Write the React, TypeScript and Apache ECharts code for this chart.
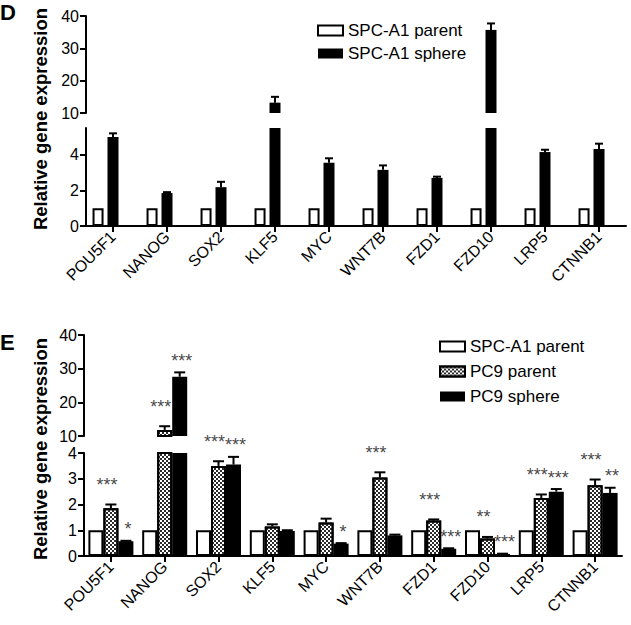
import React, { useEffect, useRef } from 'react';
import * as echarts from 'echarts';

const FONT = "'Liberation Sans', Arial, Helvetica, sans-serif";

const genes = ['POU5F1', 'NANOG', 'SOX2', 'KLF5', 'MYC', 'WNT7B', 'FZD1', 'FZD10', 'LRP5', 'CTNNB1'];

// Panel D
const dParent = [1, 1, 1, 1, 1, 1, 1, 1, 1, 1];
const dSphere = [5.0, 1.85, 2.18, 13.2, 3.55, 3.15, 2.7, 35.7, 4.15, 4.32];
const dSphereErr = [0.2, 0.05, 0.3, 1.8, 0.25, 0.25, 0.07, 2.0, 0.13, 0.3];

// Panel E
const eSpcParent = [1, 1, 1, 1, 1, 1, 1, 1, 1, 1];
const ePc9Parent = [1.85, 11.8, 3.5, 1.15, 1.3, 3.05, 1.38, 0.68, 2.25, 2.75];
const ePc9ParentErr = [0.15, 1.1, 0.18, 0.08, 0.15, 0.2, 0.04, 0.06, 0.14, 0.22];
const ePc9Sphere = [0.57, 27.6, 3.55, 0.97, 0.48, 0.8, 0.28, 0.08, 2.5, 2.45];
const ePc9SphereErr = [0.02, 1.3, 0.3, 0.03, 0.02, 0.03, 0.02, 0.01, 0.1, 0.2];
const eParentStars = ['***', '***', '***', '', '', '***', '***', '**', '***', '***'];
const eSphereStars = ['*', '***', '***', '', '*', '', '***', '***', '***', '**'];

// axis segments (broken axes)
const upperRange = [10, 40];
const dLowerRange = [0, 5.5];
const eLowerRange = [0, 4];

const whiteStyle = { color: '#ffffff', borderColor: '#000', borderWidth: 2 };
const blackStyle = { color: '#000000', borderColor: '#000', borderWidth: 0 };
const checkStyle = {
  color: '#ffffff',
  borderColor: '#000',
  borderWidth: 2,
  decal: {
    symbol: 'rect',
    symbolSize: 1,
    dashArrayX: [[2, 2], [0, 2, 2, 0]],
    dashArrayY: [2, 0],
    color: '#2a2a2a',
    backgroundColor: '#ffffff',
  },
};

const onlyUpper = (arr: number[]) => arr.map((v) => (v >= upperRange[0] ? v : null));

function errData(vals: number[], errs: number[], part: 'upper' | 'lower', lowMax: number) {
  const out: number[][] = [];
  vals.forEach((v, i) => {
    const e = errs[i];
    if (part === 'upper' && v >= upperRange[0]) out.push([i, v, e]);
    if (part === 'lower' && v + e <= lowMax) out.push([i, v, e]);
  });
  return out;
}

function starData(vals: number[], errs: number[], stars: string[], part: 'upper' | 'lower') {
  const out: any[] = [];
  vals.forEach((v, i) => {
    if (!stars[i]) return;
    const top = v + errs[i];
    const isUp = v >= upperRange[0];
    if ((part === 'upper') === isUp) out.push({ value: [i, top], star: stars[i] });
  });
  return out;
}

const errRenderer = (offset: number, cap: number) => (params: any, api: any) => {
  const i = api.value(0);
  const v = api.value(1);
  const e = api.value(2);
  const a = api.coord([i, v]);
  const b = api.coord([i, v + e]);
  const x = a[0] + offset;
  return {
    type: 'group',
    children: [
      { type: 'line', shape: { x1: x, y1: a[1], x2: x, y2: b[1] }, style: { stroke: '#000', lineWidth: 2 } },
      { type: 'line', shape: { x1: x - cap, y1: b[1], x2: x + cap, y2: b[1] }, style: { stroke: '#000', lineWidth: 2 } },
    ],
  };
};

function yAxisCfg(gridIndex: number, range: number[], interval: number, hideMax = false) {
  return {
    type: 'value',
    gridIndex,
    min: range[0],
    max: range[1],
    interval,
    axisLine: { show: true, lineStyle: { color: '#000', width: 2 } },
    axisTick: { show: true, length: 6, lineStyle: { color: '#000', width: 2 } },
    axisLabel: { color: '#000', fontSize: 16, fontFamily: FONT, margin: 7, showMaxLabel: !hideMax },
    splitLine: { show: false },
  };
}

function xAxisCfg(gridIndex: number, show: boolean) {
  return {
    type: 'category',
    gridIndex,
    data: genes,
    show,
    axisLine: { show, lineStyle: { color: '#000', width: 2 } },
    axisTick: { show, alignWithLabel: true, length: 6, lineStyle: { color: '#000', width: 2 } },
    axisLabel: { show, rotate: 45, interval: 0, color: '#000', fontSize: 16, fontFamily: FONT, margin: 8 },
    splitLine: { show: false },
  };
}

function starSeries(name: string, grid: number, data: any[], dx: number, lift: number) {
  return {
    type: 'scatter',
    name,
    xAxisIndex: grid,
    yAxisIndex: grid,
    data,
    symbolSize: 1,
    itemStyle: { color: 'rgba(0,0,0,0)' },
    silent: true,
    z: 5,
    label: {
      show: true,
      position: 'top',
      distance: lift,
      offset: [dx, 0],
      formatter: (p: any) => p.data.star,
      fontSize: 18,
      fontFamily: FONT,
      color: '#111',
    },
  };
}

export default function App() {
  const ref = useRef<HTMLDivElement>(null);
  useEffect(() => {
    if (!ref.current) return;
    const chart = echarts.init(ref.current, undefined, { renderer: 'svg' });

    const dBar = { barWidth: 11, barGap: '36%' };
    const eBar = { barWidth: 15, barGap: '0%' };
    const nulls = genes.map(() => null);

    const series: any[] = [
      // Panel D upper
      { type: 'bar', name: 'SPC-A1 parent', xAxisIndex: 0, yAxisIndex: 0, data: onlyUpper(dParent), itemStyle: whiteStyle, ...dBar },
      { type: 'bar', name: 'SPC-A1 sphere', xAxisIndex: 0, yAxisIndex: 0, data: onlyUpper(dSphere), itemStyle: blackStyle, ...dBar },
      { type: 'bar', name: 'pad-d-up', xAxisIndex: 0, yAxisIndex: 0, data: nulls, itemStyle: { color: 'rgba(0,0,0,0)' }, ...dBar },
      // Panel D lower
      { type: 'bar', name: 'SPC-A1 parent', xAxisIndex: 1, yAxisIndex: 1, data: dParent, itemStyle: whiteStyle, ...dBar },
      { type: 'bar', name: 'SPC-A1 sphere', xAxisIndex: 1, yAxisIndex: 1, data: dSphere, itemStyle: blackStyle, ...dBar },
      { type: 'bar', name: 'pad-d-low', xAxisIndex: 1, yAxisIndex: 1, data: nulls, itemStyle: { color: 'rgba(0,0,0,0)' }, ...dBar },
      // D error bars
      { type: 'custom', name: 'err-d-up', xAxisIndex: 0, yAxisIndex: 0, data: errData(dSphere, dSphereErr, 'upper', dLowerRange[1]), encode: { x: 0, y: 1 }, renderItem: errRenderer(0, 4), z: 4, silent: true },
      { type: 'custom', name: 'err-d-low', xAxisIndex: 1, yAxisIndex: 1, data: errData(dSphere, dSphereErr, 'lower', dLowerRange[1]), encode: { x: 0, y: 1 }, renderItem: errRenderer(0, 4), z: 4, silent: true },

      // Panel E upper
      { type: 'bar', name: 'SPC-A1 parent', xAxisIndex: 2, yAxisIndex: 2, data: onlyUpper(eSpcParent), itemStyle: whiteStyle, ...eBar },
      { type: 'bar', name: 'PC9 parent', xAxisIndex: 2, yAxisIndex: 2, data: onlyUpper(ePc9Parent), itemStyle: checkStyle, ...eBar },
      { type: 'bar', name: 'PC9 sphere', xAxisIndex: 2, yAxisIndex: 2, data: onlyUpper(ePc9Sphere), itemStyle: blackStyle, ...eBar },
      // Panel E lower
      { type: 'bar', name: 'SPC-A1 parent', xAxisIndex: 3, yAxisIndex: 3, data: eSpcParent, itemStyle: whiteStyle, ...eBar },
      { type: 'bar', name: 'PC9 parent', xAxisIndex: 3, yAxisIndex: 3, data: ePc9Parent, itemStyle: checkStyle, ...eBar },
      { type: 'bar', name: 'PC9 sphere', xAxisIndex: 3, yAxisIndex: 3, data: ePc9Sphere, itemStyle: blackStyle, ...eBar },
      // E error bars
      { type: 'custom', name: 'err-e-p-up', xAxisIndex: 2, yAxisIndex: 2, data: errData(ePc9Parent, ePc9ParentErr, 'upper', eLowerRange[1]), encode: { x: 0, y: 1 }, renderItem: errRenderer(0, 5.5), z: 4, silent: true },
      { type: 'custom', name: 'err-e-p-low', xAxisIndex: 3, yAxisIndex: 3, data: errData(ePc9Parent, ePc9ParentErr, 'lower', eLowerRange[1]), encode: { x: 0, y: 1 }, renderItem: errRenderer(0, 5.5), z: 4, silent: true },
      { type: 'custom', name: 'err-e-s-up', xAxisIndex: 2, yAxisIndex: 2, data: errData(ePc9Sphere, ePc9SphereErr, 'upper', eLowerRange[1]), encode: { x: 0, y: 1 }, renderItem: errRenderer(15, 5.5), z: 4, silent: true },
      { type: 'custom', name: 'err-e-s-low', xAxisIndex: 3, yAxisIndex: 3, data: errData(ePc9Sphere, ePc9SphereErr, 'lower', eLowerRange[1]), encode: { x: 0, y: 1 }, renderItem: errRenderer(15, 5.5), z: 4, silent: true },
      // E significance stars
      starSeries('stars-p-up', 2, starData(ePc9Parent, ePc9ParentErr, eParentStars, 'upper'), -4, 10),
      starSeries('stars-p-low', 3, starData(ePc9Parent, ePc9ParentErr, eParentStars, 'lower'), -4, 10),
      starSeries('stars-s-up', 2, starData(ePc9Sphere, ePc9SphereErr, eSphereStars, 'upper'), 17, 2),
      starSeries('stars-s-low', 3, starData(ePc9Sphere, ePc9SphereErr, eSphereStars, 'lower'), 17, 2),
    ];

    const legendBase = {
      orient: 'vertical',
      itemWidth: 25,
      itemHeight: 10,
      icon: 'rect',
      padding: 0,
      selectedMode: false,
      textStyle: { fontSize: 17, color: '#000', fontFamily: FONT, lineHeight: 17 },
    };

    const option: any = {
      animation: false,
      backgroundColor: '#ffffff',
      grid: [
        { left: 86, top: 16, width: 540, height: 97, containLabel: false, outerBoundsMode: 'none' },
        { left: 86, top: 128, width: 540, height: 98, containLabel: false, outerBoundsMode: 'none' },
        { left: 84, top: 335, width: 538, height: 101, containLabel: false, outerBoundsMode: 'none' },
        { left: 84, top: 453, width: 538, height: 103, containLabel: false, outerBoundsMode: 'none' },
      ],
      xAxis: [xAxisCfg(0, false), xAxisCfg(1, true), xAxisCfg(2, false), xAxisCfg(3, true)],
      yAxis: [
        yAxisCfg(0, upperRange, 10),
        yAxisCfg(1, dLowerRange, 2, true),
        yAxisCfg(2, upperRange, 10),
        yAxisCfg(3, eLowerRange, 1),
      ],
      legend: [
        { ...legendBase, left: 317, top: 22, itemGap: 6, data: ['SPC-A1 parent', 'SPC-A1 sphere'] },
        { ...legendBase, left: 439, top: 338, itemGap: 8, data: ['SPC-A1 parent', 'PC9 parent', 'PC9 sphere'] },
      ],
      graphic: [
        { type: 'text', left: 0, top: 1, style: { text: 'D', font: `bold 22px ${FONT}`, fill: '#000' } },
        { type: 'text', left: 0, top: 331, style: { text: 'E', font: `bold 22px ${FONT}`, fill: '#000' } },
        {
          type: 'text', x: 40, y: 119, rotation: Math.PI / 2,
          style: { text: 'Relative gene expression', font: `bold 18.5px ${FONT}`, fill: '#000', textAlign: 'center', textVerticalAlign: 'middle', align: 'center', verticalAlign: 'middle' },
        },
        {
          type: 'text', x: 40, y: 449, rotation: Math.PI / 2,
          style: { text: 'Relative gene expression', font: `bold 18.5px ${FONT}`, fill: '#000', textAlign: 'center', textVerticalAlign: 'middle', align: 'center', verticalAlign: 'middle' },
        },
      ],
      series,
    };

    chart.setOption(option);
    return () => chart.dispose();
  }, []);

  return <div ref={ref} style={{ position: 'absolute', left: 0, top: 0, width: 631, height: 625 }} />;
}
